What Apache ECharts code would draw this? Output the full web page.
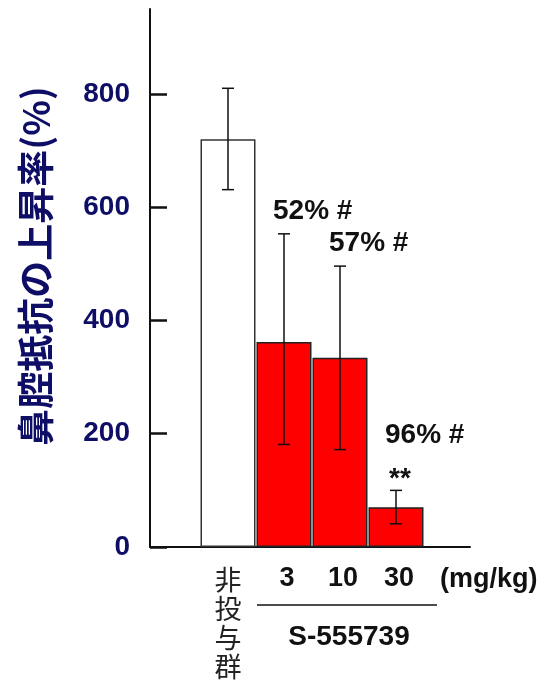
<!DOCTYPE html>
<html>
<head>
<meta charset="utf-8">
<script src="https://cdn.jsdelivr.net/npm/echarts@6/dist/echarts.min.js"></script>
<style>
  html, body { margin: 0; padding: 0; background: #fff; }
  #chart { width: 547px; height: 693px; }
</style>
</head>
<body>
<div id="chart"></div>
<script>
const categories = ['非投与群', '3', '10', '30']
const means = [720, 362, 334, 70]
const errLow = [631, 181, 172, 41]
const errHigh = [810, 553, 496, 100]
const yTicks = [0, 200, 400, 600, 800]
const pctLabels = ['', '52% #', '57% #', '96% #']
const sigLabels = ['', '', '', '**']

const navy = '#0e0e66'
const latin = '"Liberation Sans", Arial, sans-serif'
const cjk = '"Noto Sans CJK JP", sans-serif'

const chart = echarts.init(document.getElementById('chart'))

// error bar + annotation text above it
const renderErr = (params, api) => {
  const i = api.value(0)
  const hi = api.coord([i, api.value(2)])
  const lo = api.coord([i, api.value(1)])
  const x = hi[0]
  const lineStyle = { stroke: '#111', lineWidth: 1.5 }
  const children = [
    { type: 'line', shape: { x1: x, y1: hi[1], x2: x, y2: lo[1] }, style: lineStyle },
    { type: 'line', shape: { x1: x - 6, y1: hi[1], x2: x + 6, y2: hi[1] }, style: lineStyle },
    { type: 'line', shape: { x1: x - 6, y1: lo[1], x2: x + 6, y2: lo[1] }, style: lineStyle }
  ]
  let y = hi[1] - 10
  if (sigLabels[i]) {
    children.push({
      type: 'text',
      style: { x: x + 4, y: y + 13, text: sigLabels[i], align: 'center', verticalAlign: 'bottom',
        fill: '#111', font: 'bold 28px ' + latin }
    })
    y -= 32
  }
  if (pctLabels[i]) {
    children.push({
      type: 'text',
      style: { x: x - 11, y: y + 1, text: pctLabels[i], align: 'left', verticalAlign: 'bottom',
        fill: '#111', font: 'bold 28px ' + latin }
    })
  }
  return { type: 'group', children }
}

const option = {
  animation: false,
  grid: [
    { left: 150, right: 77, top: 9, bottom: 146 },
    { left: 200, width: 224, top: 9, bottom: 146 }
  ],
  xAxis: [
    {
      gridIndex: 0, type: 'value', min: 0, max: 1,
      axisLine: { show: true, lineStyle: { color: '#111', width: 2 } },
      axisTick: { show: false }, axisLabel: { show: false }, splitLine: { show: false }
    },
    {
      gridIndex: 1, type: 'category', data: categories,
      axisLine: { show: false }, axisTick: { show: false },
      axisLabel: {
        margin: 18,
        interval: 0,
        formatter: (val) => /\d/.test(val) ? `{num|${val}}` : val.split('').map(c => `{cjk|${c}}`).join('\n'),
        rich: {
          num: { fontFamily: latin, fontWeight: 'bold', fontSize: 27, color: '#111', padding: [0, 0, 0, 6] },
          cjk: { fontFamily: cjk, fontSize: 27, color: '#222', lineHeight: 29 }
        }
      }
    }
  ],
  yAxis: [
    {
      gridIndex: 0, type: 'value', min: 0, max: 950, interval: 200,
      axisLine: { show: true, onZero: false, lineStyle: { color: '#111', width: 2 } },
      axisTick: { show: true, inside: true, length: 17, customValues: yTicks, lineStyle: { color: '#111', width: 2.5 } },
      axisLabel: {
        customValues: yTicks, margin: 20,
        color: navy, fontFamily: latin, fontWeight: 'bold', fontSize: 28
      },
      splitLine: { show: false }
    },
    {
      gridIndex: 1, type: 'value', min: 0, max: 950,
      show: false
    }
  ],
  series: [
    {
      type: 'bar',
      xAxisIndex: 1, yAxisIndex: 1,
      barWidth: 55,
      data: means.map((v, i) => ({
        value: v,
        itemStyle: {
          color: i === 0 ? '#ffffff' : '#ff0000',
          borderColor: i === 0 ? '#333' : '#222',
          borderWidth: 1.5
        }
      }))
    },
    {
      type: 'custom',
      xAxisIndex: 1, yAxisIndex: 1,
      renderItem: renderErr,
      data: means.map((v, i) => [i, errLow[i], errHigh[i]]),
      z: 5
    }
  ],
  graphic: [
    {
      type: 'text', x: 36, y: 266, rotation: Math.PI / 2,
      style: { text: '鼻腔抵抗の上昇率(%)', align: 'center', verticalAlign: 'middle',
        fill: navy, font: 'bold 37px ' + cjk }
    },
    {
      type: 'text', x: 440, y: 580,
      style: { text: '(mg/kg)', align: 'left', verticalAlign: 'middle',
        fill: '#111', font: 'bold 27px ' + latin }
    },
    {
      type: 'line', shape: { x1: 257, y1: 605, x2: 437, y2: 605 },
      style: { stroke: '#111', lineWidth: 1.5 }
    },
    {
      type: 'text', x: 349, y: 637,
      style: { text: 'S-555739', align: 'center', verticalAlign: 'middle',
        fill: '#111', font: 'bold 28px ' + latin }
    }
  ]
}

chart.setOption(option)
</script>
</body>
</html>
